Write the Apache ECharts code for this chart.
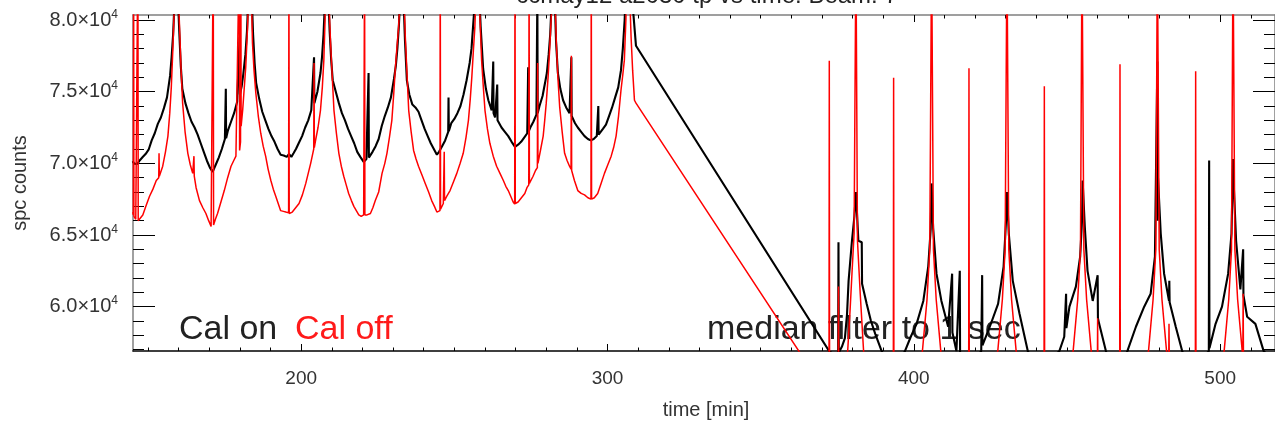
<!DOCTYPE html>
<html><head><meta charset="utf-8">
<script src="https://cdn.jsdelivr.net/npm/echarts@6/dist/echarts.min.js"></script>
<style>html,body{margin:0;padding:0;background:#fff}#c{width:1275px;height:425px}</style>
</head><body><div id="c"></div><script>
// Cal on (black), first block
const calOn1 = [
[145.0,70150],[145.5,69980],[146.0,70100],[146.5,69950],[147.2,70180],[148.2,70420],[149.2,70650],[150.2,70950],[151.2,71600],[152.2,72100],[153.2,72750],[154.2,73200],[155.2,73850],[156.2,74600],[157.2,76100],[157.7,77400],[158.2,79000],[158.7,81500],[159.2,85000],[159.7,82000],[160.2,79200],[160.7,76800],[161.2,75200],[162.2,74200],[163.2,73500],[164.2,72900],[165.2,72500],[166.2,72000],[167.2,71400],[168.2,70800],[169.2,70200],[170.2,69700],[171.1,69400],
[172.1,69900],[173.1,70400],[174.1,71000],[175.1,71700],[175.4,75200],[175.5,71750],[176.1,72300],[177.1,72900],[178.1,73500],[179.1,74300],[179.9,78800],[180.0,74800],[180.6,75400],[181.1,76200],[181.8,77600],[182.3,79200],[182.8,81800],[183.3,85000],[183.8,82000],[184.3,79000],[184.8,77000],[185.3,75600],[186.3,74500],[187.3,73600],[188.3,73000],[189.3,72400],[190.3,71900],[191.3,71500],[192.3,71000],[193.3,70600],[194.3,70550],[195.3,70450],[196.0,70650],[196.8,70450],[197.5,70700],
[198.3,71000],[199.3,71450],[200.3,71900],[201.3,72500],[202.3,73000],[203.3,73700],[204.2,77400],[204.3,74200],[205.3,75000],[206.3,76300],[206.8,77400],[207.3,79000],[207.8,81500],[208.3,85000],[208.8,82000],[209.3,79200],[209.8,77200],[210.3,75800],[211.3,75000],[212.3,74200],[213.3,73500],[214.3,73000],[215.3,72400],[216.3,71900],[217.3,71400],[218.3,70800],[219.3,70450],[220.4,70100],[221.3,70300],[222.0,76300],[222.1,70400],
[223.3,70800],[224.3,71200],[225.3,71700],[226.3,72600],[227.3,73300],[228.3,73900],[229.3,74600],[230.3,75900],[230.9,76800],[231.4,78000],[231.9,79600],[232.4,82000],[232.9,85000],[233.4,81500],[233.9,78500],[234.5,75800],[235.3,74800],[236.3,74100],[237.3,73900],[238.3,73600],[239.3,73000],[240.3,72400],[241.3,71900],[242.3,71400],[243.3,71000],[244.3,70600],[245.0,70800],
[246.0,71200],[247.0,71600],[248.0,72200],[248.1,74600],[248.2,72250],[249.0,72800],[250.0,73100],[251.0,73500],[252.0,74000],[253.0,74800],[254.0,75800],[255.0,77000],[255.6,78000],[256.1,79500],[256.6,81000],[257.1,83000],[257.6,85000],[258.1,82000],[258.6,79500],[259.4,76600],[260.3,75200],[261.1,74400],[262.2,73700],[262.7,77100],[262.8,73500],[263.3,73200],[264.0,75500],[264.1,73000],[264.3,72900],[265.4,72500],[266.5,72200],[267.6,71900],[268.7,71500],[269.8,71150],
[270.8,71300],[271.8,71500],[272.8,71800],[273.8,72100],[274.1,76700],[274.2,72200],[274.8,72500],[275.8,72900],[276.8,73400],[277.1,82000],[277.2,73500],[277.8,74000],[278.8,74700],[279.6,75600],[280.2,76300],[280.8,77600],[281.3,79000],[281.7,81000],[282.2,85000],[282.7,82000],[283.2,78500],[283.8,76300],[284.6,75200],[285.5,74400],[286.5,73900],[287.6,73500],[288.2,77400],[288.3,73300],[289.4,72800],[290.3,72500],[291.4,72200],[292.5,71900],[293.6,71700],[294.5,71600],[295.5,71700],[296.5,71900],[297.0,74000],[297.1,72000],[297.5,72100],
[298.5,72400],[299.5,72700],[300.5,73300],[301.5,73900],[302.5,74600],[303.5,75300],[304.4,76500],[305.0,78000],[305.6,80000],[306.1,83000],[306.6,85000],[307.1,84000],[307.7,82000],[308.3,80800],[309.3,78200]
];
// Cal on (black), second block
const calOn2 = [
[372.5,56850],[374.0,56700],[375.3,56800],[375.4,64500],[375.5,56800],[376.5,57200],[377.5,57800],[378.2,59500],[378.7,61800],[379.8,64600],[380.6,66300],[381.1,68000],[381.9,64600],[383.0,64500],[383.1,61600],[384.6,60200],[386.0,59000],[387.4,58100],[389.5,56900],[391.0,56300],[393.0,56000],[395.0,56200],
[397.1,56900],[399.0,57900],[400.9,58800],[403.1,60400],[404.7,62800],[405.5,65400],[405.8,68600],[406.3,65500],[407.4,62300],[409.0,60400],[411.2,58600],[412.5,62300],[412.6,58200],[413.9,56900],[415.0,62500],[415.1,56600],[416.5,56400],[418.0,56200],[420.0,56400],
[422.0,56900],[422.3,62200],[422.4,57300],[424.8,58600],[427.5,60200],[429.3,62800],[430.1,66000],[430.4,68000],[431.0,65100],[432.3,61800],[434.5,59500],[437.2,56900],[439.0,56300],[441.0,56100],[443.0,56200],[445.0,56400],
[447.5,56900],[449.1,57900],[449.7,60900],[449.8,58500],[450.8,60000],[452.9,61400],[454.3,63500],[454.9,66000],[455.1,68800],[455.8,65600],[456.7,62500],[458.4,60400],[460.0,62200],[460.1,59200],[460.5,58800],[462.7,56900],[464.0,56200],[466.0,56000],[468.0,56100],
[469.7,56900],[472.5,58600],[475.2,60000],[477.3,60900],[478.7,63500],[479.5,77100],[479.6,66000],[479.7,69000],[480.6,65100],[481.7,62300],[483.3,60400],[483.4,61800],[483.5,60300],[485.5,58600],[487.6,56900],[489.0,56300],[491.0,56100],[493.0,56300],[495.0,56600],
[496.3,56900],[496.4,70200],[496.5,57100],[498.5,58800],[500.6,60000],[502.6,62300],[503.7,65100],[504.2,70300],[504.4,68700],[505.2,64600],[506.6,61200],[507.5,64000],[507.6,60800],[508.8,59300],[511.5,58800],[514.2,56900],[516.0,56500],[518.0,56200]
];
// Cal off (red), first block
const calOff1 = [
[145.0,66600],[145.2,66400],[145.3,85000],[145.4,66300],[146.0,66100],[146.6,66200],[146.7,85000],[146.8,66000],[147.3,66000],[148.3,66400],[149.3,67000],[150.5,67700],[151.6,68200],[152.7,68800],[153.5,69000],[153.6,70700],[153.7,69100],[154.8,69800],[155.7,70800],[156.5,71900],[157.1,73500],[157.6,75300],[158.1,77900],[158.6,81000],[159.2,85000],[159.7,83000],[160.3,79500],[160.8,76500],[161.3,74200],[162.1,72200],[163.0,70700],[163.8,69900],[164.6,69300],[164.9,69200],[165.0,70500],[165.1,69100],[165.7,68300],[166.8,67400],[167.9,66900],[168.9,66500],[169.8,66000],[170.6,65600],[171.2,65700],[171.3,85000],[171.4,65700],
[172.0,66100],[172.7,66500],[173.8,67300],[174.9,68100],[176.0,69000],[177.1,69800],[178.0,70200],[178.7,70500],[179.8,85000],[179.9,70900],[180.2,71500],[180.3,85000],[180.4,72600],[180.9,73700],[181.4,75200],[181.9,76700],[182.5,79500],[183.0,83000],[183.5,84000],[184.1,78400],[184.6,76500],[185.2,74900],[186.0,73300],[186.8,72100],[187.6,71200],[188.4,70500],[189.2,69600],[190.1,68800],[190.9,68200],[191.7,67700],[192.5,67200],[193.3,66700],[194.2,66650],[195.0,66600],[195.9,66550],[196.0,85000],[196.1,66500],
[197.1,66600],[198.2,66900],[199.3,67200],[200.4,67800],[201.5,68600],[202.3,69300],[203.1,70000],[203.9,70800],[204.1,71000],[204.2,77000],[204.3,71100],[204.7,71600],[205.5,72500],[206.3,73700],[206.9,75300],[207.4,77200],[207.8,80000],[208.2,85000],[208.9,82000],[209.6,78400],[210.2,75800],[210.7,73700],[211.5,72100],[212.3,70700],[213.1,69800],[213.9,69100],[214.7,68500],[215.5,67900],[216.4,67400],[217.2,67000],[218.0,66700],[218.8,66400],[219.6,66300],[220.4,66400],[220.6,66350],[220.7,85000],[220.8,66400],
[221.5,66400],[222.6,66500],[223.4,66900],[224.2,67400],[225.3,68000],[226.4,69300],[227.3,70000],[228.0,70700],[228.8,71800],[229.6,73000],[230.2,74800],[230.7,76500],[231.3,78200],[231.8,79500],[232.4,82000],[232.9,85000],[233.5,82000],[234.0,78800],[234.6,76000],[235.1,73700],[235.9,72200],[236.7,70900],[237.5,70300],[238.3,69800],[239.4,69200],[240.5,68600],[241.6,68000],[242.6,67400],[243.5,67000],[244.3,66600],[245.3,66700],[245.4,85000],[245.5,66800],
[246.4,67200],[246.6,67300],[246.7,70800],[246.8,67400],[247.5,67700],[248.6,68100],[249.7,68700],[250.8,69300],[251.9,70000],[252.9,70700],[253.8,71800],[254.6,73000],[255.2,74500],[255.7,76000],[256.2,77800],[256.7,79500],[257.1,82000],[257.6,85000],[258.2,81000],[258.9,77200],[259.5,75200],[260.0,73700],[260.8,72400],[261.6,71400],[262.7,70500],[263.8,69800],[264.9,69300],[266.0,68800],[266.8,68400],[267.6,68100],[268.4,67700],[269.2,67300],[269.7,67150],[269.8,85000],[269.9,67200],
[270.8,67300],[271.9,67600],[273.0,67900],[273.7,68300],[274.3,68500],[274.4,85000],[274.5,68600],[275.7,69100],[276.5,69500],[277.1,69700],[277.2,77000],[277.3,70000],[278.2,71000],[279.0,71900],[279.5,73000],[280.0,74200],[280.6,76000],[281.1,77900],[281.7,80500],[282.2,85000],[282.8,82000],[283.3,78400],[283.8,76000],[284.4,73900],[285.2,72200],[286.0,70700],[286.8,70200],[287.6,69800],[288.1,69600],[288.2,77500],[288.3,69500],[289.2,68800],[290.3,68100],[291.4,67900],[292.5,67800],[293.6,67600],[294.6,67500],[294.7,85000],[294.8,67500],
[295.7,67600],[296.8,67900],[297.9,68600],[299.0,69300],[300.1,69900],[301.2,70500],[302.0,71100],[302.8,71900],[303.6,73300],[304.4,75100],[305.0,76200],[305.5,77200],[306.0,80000],[306.6,85000],[307.2,82000],[307.7,78800],[308.2,76500],[308.8,74400],[309.3,74200]
];
// Cal off (red), second block
const calOff2 = [
[372.3,53700],[372.4,77160],[372.5,53800],[375.3,54000],[375.4,61400],[375.5,54100],[377.5,54600],[378.4,56900],[379.2,59800],[379.8,62300],[380.5,65100],[381.1,85000],[381.6,64600],[382.5,60900],[383.6,56900],[385.0,54800],[388.0,54000],[391.0,53800],[393.3,53900],[393.4,75970],[393.5,53900],
[396.0,54100],[398.5,54600],[401.5,55800],[402.8,56900],[404.3,60500],[405.2,64000],[405.8,85000],[406.4,64000],[407.3,60500],[408.8,56900],[410.0,55000],[413.0,54200],[416.0,54000],[417.9,54000],[418.0,76630],[418.1,54000],
[421.0,54200],[424.0,54900],[427.4,56900],[428.9,60500],[429.8,64000],[430.4,85000],[431.0,64000],[431.9,60500],[433.4,56900],[435.0,55000],[438.0,54200],[441.0,54000],[442.5,54000],[442.6,75370],[442.7,54000],
[445.5,54300],[449.0,55200],[452.0,56900],[453.5,60500],[454.4,64000],[454.9,85000],[455.5,64000],[456.4,60500],[457.9,56900],[459.9,54900],[460.0,59200],[460.1,54900],[463.0,54300],[466.0,54100],[467.2,54100],[467.3,76910],[467.4,54100],
[470.0,54300],[473.5,55300],[476.6,56900],[478.1,60500],[479.0,64000],[479.5,85000],[480.1,64000],[481.0,60500],[482.5,56900],[483.2,56100],[483.3,58800],[483.4,56000],[484.5,55000],[488.0,54200],[491.9,54000],[492.0,76420],[492.1,54000],
[495.0,54300],[498.5,55300],[501.3,56900],[502.8,60500],[503.7,64000],[504.2,85000],[504.8,64000],[505.7,60500],[507.2,56900],[507.4,56600],[507.5,60900],[507.6,56500],[509.0,55000],[512.0,54300],[516.0,54100],[518.0,54000]
];
const xMajorTicks = [200, 300, 400, 500];
const xMinorTicks = [150,160,170,180,190,200,210,220,230,240,250,260,270,280,290,300,310,320,330,340,350,360,370,380,390,400,410,420,430,440,450,460,470,480,490,500,510];
const yMajorTicks = [60000, 65000, 70000, 75000, 80000];
const yMinorTicks = [57000,58000,59000,60000,61000,62000,63000,64000,65000,66000,67000,68000,69000,70000,71000,72000,73000,74000,75000,76000,77000,78000,79000,80000];
const xRange = [145.1, 517.9];
const yRange = [56907, 80349];
const titleText = 'ccmay12 a2030 tp vs time: Beam: 7';

const FONT = 'Liberation Sans, Arial, Helvetica, sans-serif';
const calOn = calOn1.concat(calOn2);
const calOff = calOff1.concat(calOff2);

function xAx(pos, ticks, len, showLine, showLabel, lineColor) {
  return {
    type: 'value', position: pos, min: xRange[0], max: xRange[1],
    axisLine: { show: showLine, onZero: false, lineStyle: { color: lineColor, width: 1.5 } },
    axisTick: { show: true, inside: true, length: len, customValues: ticks, lineStyle: { color: '#000', width: 1 } },
    axisLabel: showLabel ? { show: true, customValues: xMajorTicks, margin: 18, color: '#333', fontSize: 19, fontFamily: FONT, formatter: v => String(v) } : { show: false },
    splitLine: { show: false }
  };
}
function yAx(pos, ticks, len, showLine, showLabel) {
  return {
    type: 'value', position: pos, min: yRange[0], max: yRange[1],
    axisLine: { show: showLine, onZero: false, lineStyle: { color: '#808080', width: 1.5 } },
    axisTick: { show: true, inside: true, length: len, customValues: ticks, lineStyle: { color: '#000', width: 1 } },
    axisLabel: showLabel ? {
      show: true, customValues: yMajorTicks, margin: 15,
      formatter: v => '{m|' + (v / 10000).toFixed(1) + '×10}{s|4}',
      rich: {
        m: { fontSize: 20, color: '#333', fontFamily: FONT },
        s: { fontSize: 12, color: '#333', fontFamily: FONT, padding: [0, 0, 11, 0] }
      }
    } : { show: false },
    splitLine: { show: false }
  };
}

const chart = echarts.init(document.getElementById('c'), null, { renderer: 'canvas' });
chart.setOption({
  animation: false,
  backgroundColor: '#fff',
  grid: { left: 133, top: 15, width: 1147, height: 336, containLabel: false },
  xAxis: [
    xAx('bottom', xMajorTicks, 7, true, true, '#000'),
    xAx('bottom', xMinorTicks, 3.5, false, false, '#000'),
    xAx('top', xMajorTicks, 7, true, false, '#808080'),
    xAx('top', xMinorTicks, 3.5, false, false, '#808080')
  ],
  yAxis: [
    yAx('left', yMajorTicks, 22, true, true),
    yAx('left', yMinorTicks, 11, false, false),
    yAx('right', yMajorTicks, 22, true, false),
    yAx('right', yMinorTicks, 11, false, false)
  ],
  series: [
    { name: 'Cal on', type: 'line', xAxisIndex: 0, yAxisIndex: 0, data: calOn, showSymbol: false, clip: true,
      lineStyle: { color: '#000', width: 2.1 }, itemStyle: { color: '#000' } },
    { name: 'Cal off', type: 'line', xAxisIndex: 0, yAxisIndex: 0, data: calOff, showSymbol: false, clip: true,
      lineStyle: { color: '#ff0000', width: 1.5 }, itemStyle: { color: '#ff0000' } }
  ],
  graphic: [
    { type: 'text', x: 707, y: -4, style: { text: titleText, fill: '#222', font: '24px ' + FONT, textAlign: 'center', textVerticalAlign: 'middle' } },
    { type: 'text', x: 706, y: 410, style: { text: 'time [min]', fill: '#333', font: '20px ' + FONT, textAlign: 'center', textVerticalAlign: 'middle' } },
    { type: 'text', x: 20, y: 183, rotation: Math.PI / 2, style: { text: 'spc counts', fill: '#333', font: '20px ' + FONT, textAlign: 'center', textVerticalAlign: 'middle' } },
    { type: 'text', x: 179, y: 330, style: { text: 'Cal on', fill: '#222', font: '34px ' + FONT, textAlign: 'left', textVerticalAlign: 'middle' } },
    { type: 'text', x: 295, y: 330, style: { text: 'Cal off', fill: '#ff1a1a', font: '34px ' + FONT, textAlign: 'left', textVerticalAlign: 'middle' } },
    { type: 'text', x: 707, y: 330, style: { text: 'median filter to 1 sec', fill: '#222', font: '34px ' + FONT, textAlign: 'left', textVerticalAlign: 'middle' } }
  ]
});
</script></body></html>
